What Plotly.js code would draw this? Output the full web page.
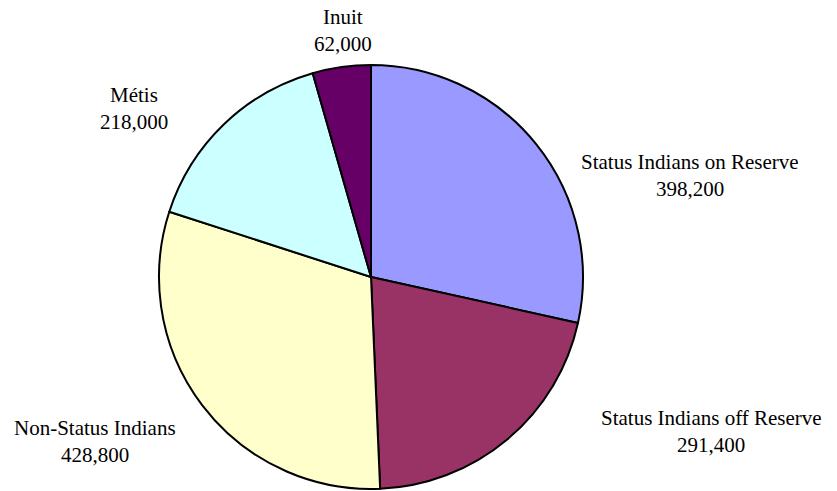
<!DOCTYPE html>
<html>
<head>
<meta charset="utf-8">
<script src="https://cdn.plot.ly/plotly-3.0.1.min.js"></script>
<style>html,body{margin:0;padding:0;background:#fff;}#chart{width:837px;height:491px;}</style>
</head>
<body>
<div id="chart"></div>
<script>
const categories = ["Status Indians on Reserve", "Status Indians off Reserve", "Non-Status Indians", "Métis", "Inuit"];
const values = [398200, 291400, 428800, 218000, 62000];
const valueLabels = ["398,200", "291,400", "428,800", "218,000", "62,000"];
const colors = ["#9999FF", "#993366", "#FFFFCC", "#CCFFFF", "#660066"];

const W = 837, H = 491;
const cx = 371, cy = 277, r = 212;
// label centre positions in pixels (name line), value line 27px below
const labelPos = [[690, 162], [711, 418], [95, 428], [134, 95], [343, 17]];
const FONT = {family: 'Times New Roman, Liberation Serif, serif', size: 21, color: '#000'};

const annotations = [];
categories.forEach((c, i) => {
  const [px, py] = labelPos[i];
  annotations.push({x: px / W, y: 1 - py / H, xref: 'paper', yref: 'paper', text: c, showarrow: false,
    font: FONT, xanchor: 'center', yanchor: 'middle'});
  annotations.push({x: px / W, y: 1 - (py + 27) / H, xref: 'paper', yref: 'paper', text: valueLabels[i], showarrow: false,
    font: FONT, xanchor: 'center', yanchor: 'middle'});
});

const trace = {
  type: 'pie',
  labels: categories,
  values: values,
  sort: false,
  direction: 'clockwise',
  rotation: 0,
  textinfo: 'none',
  hoverinfo: 'label+value',
  marker: {colors: colors, line: {color: '#000', width: 2}},
  domain: {x: [(cx - r) / W, (cx + r) / W], y: [1 - (cy + r) / H, 1 - (cy - r) / H]}
};

Plotly.newPlot('chart', [trace], {
  width: W, height: H,
  margin: {l: 0, r: 0, t: 0, b: 0},
  showlegend: false,
  paper_bgcolor: '#fff',
  font: {family: 'Times New Roman, Liberation Serif, serif'},
  annotations: annotations
}, {staticPlot: true});
</script>
</body>
</html>
